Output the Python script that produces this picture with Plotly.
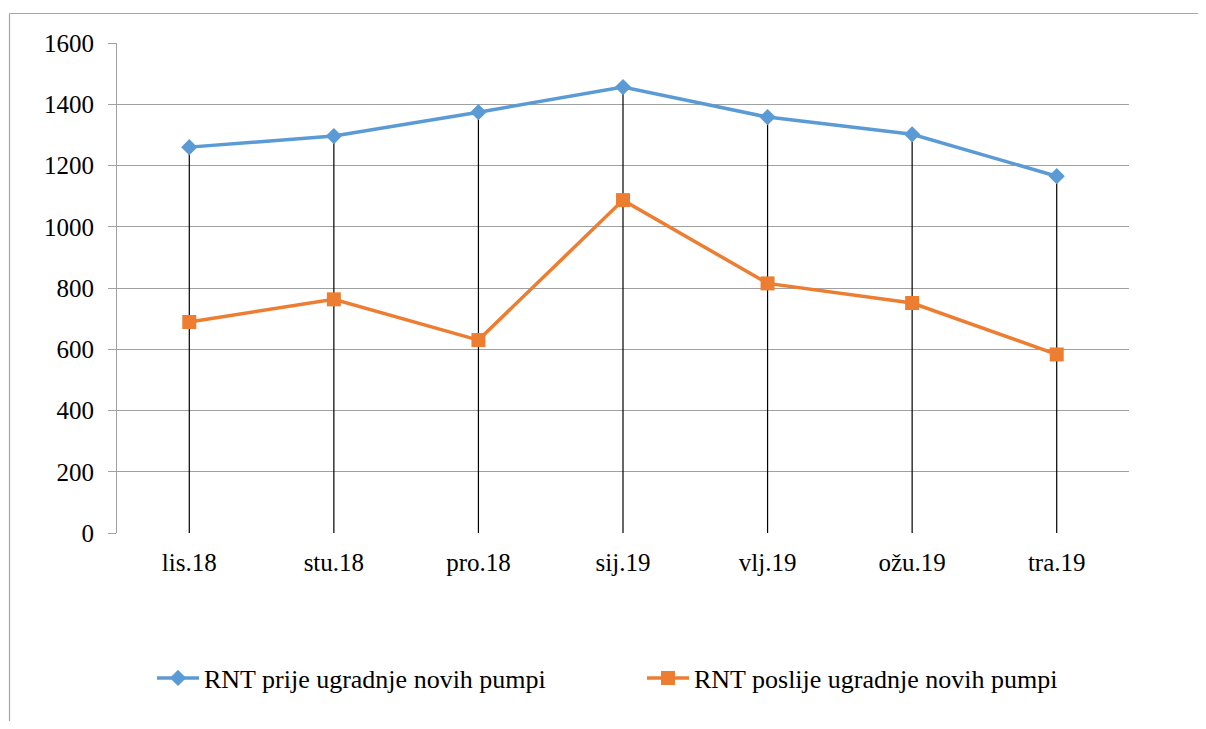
import plotly.graph_objects as go

categories = ["lis.18", "stu.18", "pro.18", "sij.19", "vlj.19", "ožu.19", "tra.19"]
rnt_prije = [1260, 1296, 1374, 1456, 1358, 1302, 1165]
rnt_poslije = [689, 763, 630, 1087, 815, 751, 583]
y_ticks = [0, 200, 400, 600, 800, 1000, 1200, 1400, 1600]

FONT = "Liberation Serif, Tinos, Times New Roman, Times, serif"
FS = 25
FS_LEG = 26
BLUE = "#5B9BD5"
ORANGE = "#ED7D31"

# page body has an 8px default margin; size the figure to fit the window exactly
OFF = 8
W, H = 1206 - 2 * OFF, 729 - 2 * OFF
L, T = 117 - OFF, 43 - OFF
pw, ph = 1012, 490
R, B = W - L - pw, H - T - ph


def px_x(x):
    return (x - OFF - L) / pw


def px_y(y):
    return (T + ph - (y - OFF)) / ph


fig = go.Figure()

# drop lines from the higher series down to the axis
fig.add_trace(go.Scatter(
    x=categories, y=rnt_prije, mode="markers",
    marker=dict(size=0.1, color="rgba(0,0,0,0)"),
    error_y=dict(type="data", symmetric=False, array=[0] * len(rnt_prije),
                 arrayminus=rnt_prije, color="black", thickness=1.2, width=0),
    showlegend=False, hoverinfo="skip",
))

fig.add_trace(go.Scatter(
    x=categories, y=rnt_prije, mode="lines+markers",
    name="RNT prije ugradnje novih pumpi",
    line=dict(color=BLUE, width=3.5),
    marker=dict(symbol="diamond", size=12.5, color=BLUE),
    legend="legend",
))
fig.add_trace(go.Scatter(
    x=categories, y=rnt_poslije, mode="lines+markers",
    name="RNT poslije ugradnje novih pumpi",
    line=dict(color=ORANGE, width=3.5),
    marker=dict(symbol="square", size=14, color=ORANGE),
    legend="legend2",
))

shapes = [
    dict(type="line", xref="paper", yref="paper", x0=px_x(9.5), x1=px_x(1206), y0=px_y(13.5), y1=px_y(13.5),
         line=dict(color="#A6A6A6", width=1.2)),
    dict(type="line", xref="paper", yref="paper", x0=px_x(9.5), x1=px_x(9.5), y0=px_y(13.5), y1=px_y(729),
         line=dict(color="#A6A6A6", width=1.2)),
]

legend_common = dict(orientation="h", xanchor="left", yanchor="middle",
                     font=dict(family=FONT, size=FS_LEG, color="black"),
                     itemwidth=42, bgcolor="rgba(0,0,0,0)")

fig.update_layout(
    width=W, height=H,
    margin=dict(l=L, r=R, t=T, b=B, autoexpand=False),
    paper_bgcolor="white", plot_bgcolor="white",
    font=dict(family=FONT, size=FS, color="black"),
    shapes=shapes,
    showlegend=True,
    legend=dict(x=px_x(152), y=px_y(678), **legend_common),
    legend2=dict(x=px_x(642), y=px_y(678), **legend_common),
    xaxis=dict(type="category", range=[-0.5, 6.5], showgrid=False, zeroline=False,
               showline=False, ticks="", ticklabelstandoff=12,
               tickfont=dict(family=FONT, size=FS)),
    yaxis=dict(range=[0, 1600], tickvals=y_ticks, showgrid=True, gridcolor="#A0A0A0", gridwidth=1.2,
               zeroline=False, showline=True, linecolor="#A0A0A0", linewidth=1.2,
               ticks="outside", ticklen=8, tickcolor="#A0A0A0", tickwidth=1.2,
               ticklabelstandoff=9, tickfont=dict(family=FONT, size=FS)),
)

fig.write_html("out.html")
